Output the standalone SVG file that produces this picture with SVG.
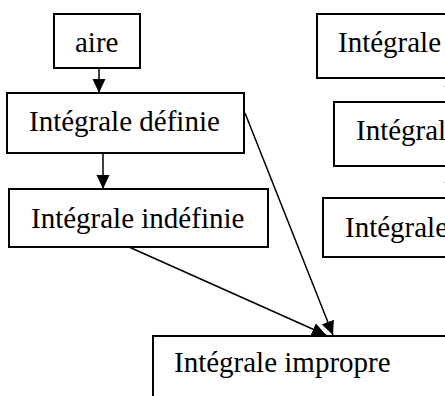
<svg xmlns="http://www.w3.org/2000/svg" width="445" height="396" viewBox="0 0 445 396">
<style>
.box{fill:#fff;stroke:#000;stroke-width:2}
.lbl{font-family:"Liberation Serif","Times New Roman",serif;font-size:29px;fill:#000}
.edge{fill:none;stroke:#000;stroke-width:1.5}
</style>
<defs>
<marker id="ah" markerUnits="userSpaceOnUse" markerWidth="15" markerHeight="14" refX="14" refY="6.5" orient="auto">
<path d="M0,0 L14,6.5 L0,13 z" fill="#000"/>
</marker>
</defs>
<rect width="445" height="396" fill="#fff"/>
<g id="n-aire"><rect class="box" x="54" y="14" width="86" height="54"/><text class="lbl" x="75" y="52">aire</text></g>
<g id="n-definie"><rect class="box" x="7" y="93" width="237" height="60"/><text class="lbl" x="29" y="131">Intégrale définie</text></g>
<g id="n-indefinie"><rect class="box" x="9" y="189" width="259" height="58"/><text class="lbl" x="31" y="228">Intégrale indéfinie</text></g>
<g id="n-r1"><rect class="box" x="317" y="14" width="160" height="64"/><text class="lbl" x="338" y="52">Intégrale</text></g>
<g id="n-r2"><rect class="box" x="334" y="102" width="160" height="64"/><text class="lbl" x="356" y="140">Intégrale</text></g>
<g id="n-r3"><rect class="box" x="323" y="198" width="160" height="59"/><text class="lbl" x="345" y="237">Intégrale</text></g>
<g id="n-impropre"><rect class="box" x="153" y="336" width="320" height="80"/><text class="lbl" x="174" y="372">Intégrale impropre</text></g>
<g id="edges">
<line class="edge" x1="99" y1="68" x2="99" y2="93" marker-end="url(#ah)"/>
<line class="edge" x1="103" y1="153" x2="103" y2="189" marker-end="url(#ah)"/>
<line class="edge" x1="245" y1="113" x2="333" y2="335" marker-end="url(#ah)"/>
<line class="edge" x1="129" y1="247" x2="326" y2="335" marker-end="url(#ah)"/>
<line class="edge" x1="451" y1="78" x2="451" y2="100" marker-end="url(#ah)"/>
<line class="edge" x1="451" y1="166" x2="451" y2="196" marker-end="url(#ah)"/>
</g>
</svg>
